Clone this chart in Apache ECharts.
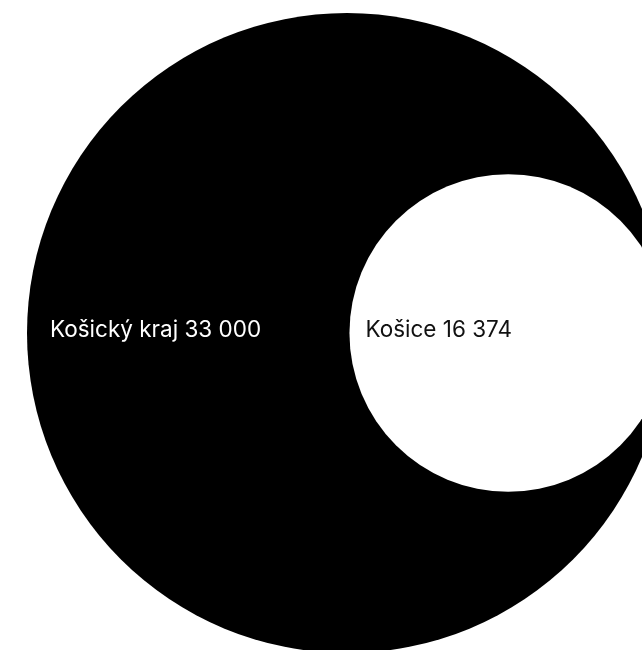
<!DOCTYPE html>
<html>
<head>
<meta charset="utf-8">
<script src="https://cdn.jsdelivr.net/npm/echarts@6/dist/echarts.min.js"></script>
<style>
html,body{margin:0;padding:0;background:#fff;}
#chart{width:642px;height:650px;}
</style>
</head>
<body>
<div id="chart"></div>
<script>
const names = ['Košický kraj', 'Košice'];
const values = [33000, 16374];
const fillColors = ['#000000', '#ffffff'];
const labelColors = ['#ffffff', '#111111'];
const labelInsets = [23, 16];

function fmt(v) {
  return String(v).replace(/\B(?=(\d{3})+(?!\d))/g, ' ');
}

const maxV = Math.max(...values);
// nested circles, internally tangent on the right; radius proportional to value
const seriesData = values.map((v, i) => ({
  name: names[i],
  value: [maxV - v, 0, v]
}));

const chart = echarts.init(document.getElementById('chart'), null, {renderer: 'canvas'});
chart.setOption({
  backgroundColor: '#ffffff',
  animation: false,
  grid: {left: 27, top: 13, width: 640, height: 640, containLabel: false, outerBoundsMode: 'none'},
  xAxis: {type: 'value', min: -maxV, max: maxV, show: false},
  yAxis: {type: 'value', min: -maxV, max: maxV, show: false},
  series: [{
    type: 'custom',
    clip: false,
    data: seriesData,
    renderItem: function (params, api) {
      const i = params.dataIndex;
      const c = api.coord([api.value(0), api.value(1)]);
      const r = api.size([api.value(2), 0])[0];
      return {
        type: 'circle',
        shape: {cx: c[0], cy: c[1], r: r},
        style: {fill: fillColors[i]},
        textContent: {
          style: {
            text: names[i] + ' ' + fmt(values[i]),
            fill: labelColors[i],
            fontFamily: 'Inter',
            fontSize: 22.5
          }
        },
        textConfig: {position: 'insideLeft', distance: labelInsets[i], offset: [0, -3]}
      };
    }
  }]
});
</script>
</body>
</html>
